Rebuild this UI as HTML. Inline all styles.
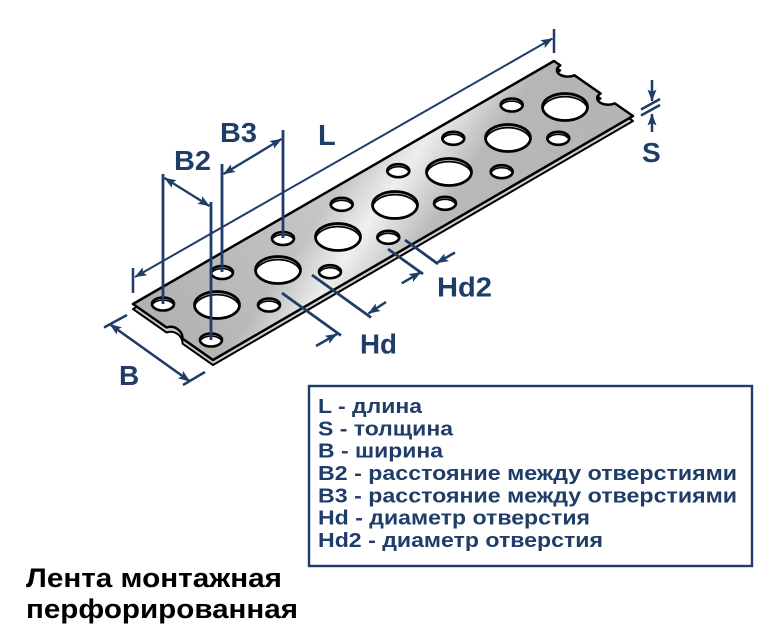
<!DOCTYPE html>
<html>
<head>
<meta charset="utf-8">
<style>
  html, body { margin: 0; padding: 0; background: #fff; }
  svg { display: block; }
</style>
</head>
<body>
<svg width="771" height="635" viewBox="0 0 771 635" xmlns="http://www.w3.org/2000/svg">
  <defs>
    <linearGradient id="face" gradientUnits="userSpaceOnUse" x1="343" y1="183" x2="423" y2="238">
      <stop offset="0" stop-color="#c6c6c6"/>
      <stop offset="0.45" stop-color="#f1f1f1"/>
      <stop offset="1" stop-color="#bcbcbc"/>
    </linearGradient>
    <linearGradient id="shade" gradientUnits="userSpaceOnUse" x1="170" y1="330" x2="600" y2="90">
      <stop offset="0" stop-color="#000" stop-opacity="0.10"/>
      <stop offset="0.4" stop-color="#000" stop-opacity="0"/>
      <stop offset="1" stop-color="#000" stop-opacity="0.04"/>
    </linearGradient>
    <marker id="ar" viewBox="0 0 12 9" refX="11.5" refY="4.5" markerWidth="12" markerHeight="9" markerUnits="userSpaceOnUse" orient="auto-start-reverse">
      <path d="M0,0 L12,4.5 L0,9 L2.5,4.5 Z" fill="#1f3d68"/>
    </marker>
    <clipPath id="cl"><ellipse cx="0" cy="0" rx="22.5" ry="13.5"/></clipPath>
    <clipPath id="cs"><ellipse cx="0" cy="0" rx="11" ry="6.5"/></clipPath>
    <g id="hl">
      <ellipse cx="0" cy="0" rx="22.5" ry="13.5" fill="#a9a9a9"/>
      <ellipse cx="0" cy="3.2" rx="22.5" ry="13.5" fill="#fff" stroke="#000" stroke-width="1.6" clip-path="url(#cl)"/>
      <ellipse cx="0" cy="0" rx="22.5" ry="13.5" fill="none" stroke="#000" stroke-width="2.7"/>
    </g>
    <g id="hs">
      <ellipse cx="0" cy="0" rx="11" ry="6.5" fill="#a9a9a9"/>
      <ellipse cx="0" cy="2.6" rx="11" ry="6.5" fill="#fff" stroke="#000" stroke-width="1.5" clip-path="url(#cs)"/>
      <ellipse cx="0" cy="0" rx="11" ry="6.5" fill="none" stroke="#000" stroke-width="2.6"/>
    </g>
  </defs>

  <!-- strip thickness -->
  <path transform="translate(0,5)" d="M133,304 L166.6,327.5 A12,12 0 0 1 182.6,338.7 L213,360 L633,116 L614.8,103.4 A11,6.5 0 0 1 600.6,93.5 L574.5,75.3 A11,6.5 0 0 1 560.3,65.4 L554,61 Z" fill="#cfcfcf" stroke="#000" stroke-width="2" stroke-linejoin="round"/>
  <!-- strip top face -->
  <path d="M133,304 L166.6,327.5 A12,12 0 0 1 182.6,338.7 L213,360 L633,116 L614.8,103.4 A11,6.5 0 0 1 600.6,93.5 L574.5,75.3 A11,6.5 0 0 1 560.3,65.4 L554,61 Z" fill="url(#face)" stroke="#000" stroke-width="2.5" stroke-linejoin="round"/>
  <path d="M133,304 L166.6,327.5 A12,12 0 0 1 182.6,338.7 L213,360 L633,116 L614.8,103.4 A11,6.5 0 0 1 600.6,93.5 L574.5,75.3 A11,6.5 0 0 1 560.3,65.4 L554,61 Z" fill="url(#shade)" stroke="none"/>

  <!-- large holes -->
  <use href="#hl" x="217" y="305"/>
  <use href="#hl" x="278" y="270"/>
  <use href="#hl" x="338" y="237"/>
  <use href="#hl" x="395" y="205"/>
  <use href="#hl" x="449" y="172"/>
  <use href="#hl" x="508" y="138"/>
  <use href="#hl" x="565" y="107"/>
  <!-- small holes upper row -->
  <use href="#hs" x="163" y="304"/>
  <use href="#hs" x="222" y="272.5"/>
  <use href="#hs" x="283" y="238.5"/>
  <use href="#hs" x="341.7" y="204.3"/>
  <use href="#hs" x="398.3" y="170.7"/>
  <use href="#hs" x="453.3" y="138.3"/>
  <use href="#hs" x="511.7" y="105"/>
  <!-- small holes lower row -->
  <use href="#hs" x="211" y="340"/>
  <use href="#hs" x="269" y="305"/>
  <use href="#hs" x="330" y="271.7"/>
  <use href="#hs" x="388.3" y="237.3"/>
  <use href="#hs" x="445" y="203.3"/>
  <use href="#hs" x="501.7" y="171.7"/>
  <use href="#hs" x="558.3" y="138.3"/>

  <!-- dimension lines -->
  <g stroke="#1f3d68" fill="none" stroke-linecap="butt">
    <!-- L -->
    <line x1="133" y1="268" x2="133" y2="293" stroke-width="2.5"/>
    <line x1="554" y1="29" x2="554" y2="53" stroke-width="2.5"/>
    <line x1="135" y1="277" x2="552.5" y2="38.5" stroke-width="2" marker-start="url(#ar)" marker-end="url(#ar)"/>
    <!-- B2 -->
    <line x1="163" y1="174" x2="163" y2="304" stroke-width="2.8"/>
    <line x1="211" y1="202" x2="211" y2="340" stroke-width="2.8"/>
    <line x1="164.5" y1="178" x2="209.5" y2="206" stroke-width="2.3" marker-start="url(#ar)" marker-end="url(#ar)"/>
    <!-- B3 -->
    <line x1="222" y1="164" x2="222" y2="272" stroke-width="2.8"/>
    <line x1="283" y1="130" x2="283" y2="238" stroke-width="2.8"/>
    <line x1="223.5" y1="174" x2="281.5" y2="139" stroke-width="2.3" marker-start="url(#ar)" marker-end="url(#ar)"/>
    <!-- B -->
    <line x1="104" y1="327.5" x2="127" y2="315" stroke-width="2.5"/>
    <line x1="183" y1="385" x2="205" y2="372" stroke-width="2.5"/>
    <line x1="110" y1="324.3" x2="189.8" y2="381.3" stroke-width="2.5" marker-start="url(#ar)" marker-end="url(#ar)"/>
    <!-- Hd -->
    <line x1="282" y1="293" x2="341" y2="335.5" stroke-width="2.8"/>
    <line x1="312" y1="275" x2="371" y2="317.5" stroke-width="2.8"/>
    <line x1="316" y1="346" x2="337" y2="334" stroke-width="2.5" marker-end="url(#ar)"/>
    <line x1="386" y1="302" x2="368.5" y2="313.5" stroke-width="2.5" marker-end="url(#ar)"/>
    <!-- Hd2 -->
    <line x1="388" y1="249" x2="423" y2="274" stroke-width="2.8"/>
    <line x1="405" y1="240" x2="438" y2="264" stroke-width="2.8"/>
    <line x1="401.7" y1="283.3" x2="420.7" y2="272.3" stroke-width="2.5" marker-end="url(#ar)"/>
    <line x1="455" y1="252.5" x2="436.7" y2="263" stroke-width="2.5" marker-end="url(#ar)"/>
    <!-- S -->
    <line x1="652" y1="80" x2="652" y2="101" stroke-width="2.5" marker-end="url(#ar)"/>
    <line x1="641" y1="109.5" x2="660" y2="99" stroke-width="2.5"/>
    <line x1="641" y1="115.5" x2="660" y2="105" stroke-width="2.5"/>
    <line x1="652" y1="132" x2="652" y2="114" stroke-width="2.5" marker-end="url(#ar)"/>
  </g>

  <!-- dimension labels -->
  <g font-family="'Liberation Sans', Arial, sans-serif" font-weight="bold" fill="#1f3d68" font-size="28">
    <text x="318" y="145" font-size="29">L</text>
    <text x="220" y="142" textLength="37" lengthAdjust="spacingAndGlyphs">B3</text>
    <text x="174" y="170" textLength="37" lengthAdjust="spacingAndGlyphs">B2</text>
    <text x="642" y="162">S</text>
    <text x="437" y="296.5" textLength="55" lengthAdjust="spacingAndGlyphs">Hd2</text>
    <text x="360" y="353.5" textLength="37" lengthAdjust="spacingAndGlyphs">Hd</text>
    <text x="119" y="385">B</text>
  </g>

  <!-- legend -->
  <rect x="309" y="386" width="443" height="180" fill="#fff" stroke="#1f3d68" stroke-width="2.4"/>
  <g font-family="'Liberation Sans', 'DejaVu Sans', sans-serif" font-weight="bold" fill="#1f3d68" font-size="20.5">
    <text x="318" y="413" textLength="104" lengthAdjust="spacingAndGlyphs">L - длина</text>
    <text x="318" y="435.3" textLength="135" lengthAdjust="spacingAndGlyphs">S - толщина</text>
    <text x="318" y="457.7" textLength="125" lengthAdjust="spacingAndGlyphs">B - ширина</text>
    <text x="318" y="480" textLength="419" lengthAdjust="spacingAndGlyphs">B2 - расстояние между отверстиями</text>
    <text x="318" y="502.3" textLength="419" lengthAdjust="spacingAndGlyphs">B3 - расстояние между отверстиями</text>
    <text x="318" y="524.7" textLength="272" lengthAdjust="spacingAndGlyphs">Hd - диаметр отверстия</text>
    <text x="318" y="547" textLength="285" lengthAdjust="spacingAndGlyphs">Hd2 - диаметр отверстия</text>
  </g>

  <!-- title -->
  <g font-family="'Liberation Sans', 'DejaVu Sans', sans-serif" font-weight="bold" fill="#000" font-size="27">
    <text x="26" y="587" textLength="256" lengthAdjust="spacingAndGlyphs">Лента монтажная</text>
    <text x="26" y="618" textLength="272" lengthAdjust="spacingAndGlyphs">перфорированная</text>
  </g>
</svg>
</body>
</html>
